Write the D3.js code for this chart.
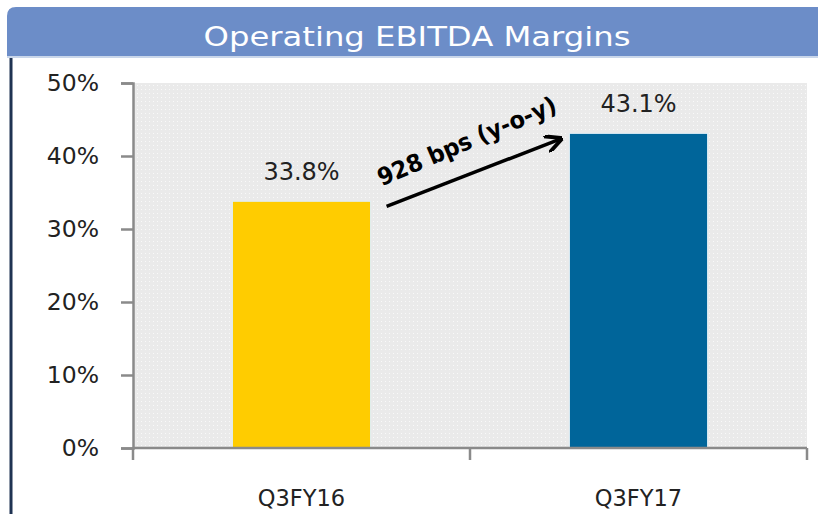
<!DOCTYPE html>
<html><head><meta charset="utf-8">
<script src="https://cdn.jsdelivr.net/npm/d3@7/dist/d3.min.js"></script>
<style>body{margin:0;background:#fff;}svg{display:block;}</style>
</head><body>
<script>
const title = "Operating EBITDA Margins";
const categories = ["Q3FY16", "Q3FY17"];
const values = [33.8, 43.1];
const valueLabels = ["33.8%", "43.1%"];
const barColors = ["#FFCC00", "#00659A"];
const yTicks = [0, 10, 20, 30, 40, 50];
const annotation = "928 bps (y-o-y)";

(function(){
const W = 818, H = 514;
const svg = d3.select("body").append("svg").attr("width", W).attr("height", H);
const font = "'DejaVu Sans', Verdana, sans-serif";

const defs = svg.append("defs");
const pat = defs.append("pattern").attr("id","dots").attr("width",4).attr("height",4).attr("patternUnits","userSpaceOnUse");
pat.append("rect").attr("width",4).attr("height",4).attr("fill","#eaeaea");
pat.append("rect").attr("x",1).attr("y",1).attr("width",1).attr("height",1).attr("fill","#f9f9f9");
defs.append("marker").attr("id","arr").attr("viewBox","0 0 10 10").attr("refX",8).attr("refY",5)
  .attr("markerWidth",5).attr("markerHeight",5).attr("orient","auto")
  .append("path").attr("d","M0,0 L10,5 L0,10").attr("fill","none").attr("stroke","#000").attr("stroke-width",2.2);

svg.append("path").attr("d","M7,56 L7,16 Q7,7 16,7 L818,7 L818,56 Z").attr("fill","#6C8DC8");
svg.append("line").attr("x1",7).attr("x2",818).attr("y1",57).attr("y2",57).attr("stroke","#c9d6ea").attr("stroke-width",2);
svg.append("text").attr("x",417).attr("y",46).attr("text-anchor","middle")
  .attr("font-family",font).attr("font-size",26).attr("fill","#fff")
  .attr("textLength",427).attr("lengthAdjust","spacingAndGlyphs").text(title);
svg.append("line").attr("x1",11).attr("x2",11).attr("y1",58).attr("y2",H).attr("stroke","#1f3352").attr("stroke-width",3);

const pl = 133, pr = 807, pt = 83, pb = 448;
const x = d3.scaleBand().domain(categories).range([pl, pr]).paddingInner(0.59).paddingOuter(0.295);
const y = d3.scaleLinear().domain([0, 50]).range([pb, pt]);

svg.append("rect").attr("x",pl).attr("y",pt).attr("width",pr-pl).attr("height",pb-pt).attr("fill","url(#dots)");

svg.selectAll(".bar").data(values).enter().append("rect")
  .attr("x",(d,i)=>x(categories[i])).attr("y",d=>y(d))
  .attr("width",x.bandwidth()).attr("height",d=>pb-y(d))
  .attr("fill",(d,i)=>barColors[i]).attr("stroke","#dfeff7").attr("stroke-width",1);

svg.selectAll(".vl").data(values).enter().append("text")
  .attr("x",(d,i)=>x(categories[i])+x.bandwidth()/2).attr("y",d=>y(d)-21)
  .attr("text-anchor","middle").attr("font-family",font).attr("font-size",24).attr("fill","#222")
  .text((d,i)=>valueLabels[i]);

const yAxis = d3.axisLeft(y).tickValues(yTicks).tickFormat(d=>d+"%").tickSize(12).tickPadding(22);
const ga = svg.append("g").attr("transform",`translate(${pl},0)`).call(yAxis);
ga.select(".domain").attr("stroke","#8a8a8a").attr("stroke-width",2.5);
ga.selectAll(".tick line").attr("stroke","#8a8a8a").attr("stroke-width",2.5);
ga.selectAll(".tick text").attr("font-family",font).attr("font-size",23.5).attr("fill","#222");

const xAxis = d3.axisBottom(x).tickSize(0).tickPadding(42);
const gx = svg.append("g").attr("transform",`translate(0,${pb})`).call(xAxis);
gx.select(".domain").attr("stroke","#8a8a8a").attr("stroke-width",2.5).attr("d",`M${pl},0H${pr}`);
gx.selectAll(".tick text").attr("font-family",font).attr("font-size",22.5).attr("fill","#222");
[pl, (pl+pr)/2, pr].forEach(xx=>{
  svg.append("line").attr("x1",xx).attr("x2",xx).attr("y1",pb).attr("y2",pb+12).attr("stroke","#8a8a8a").attr("stroke-width",2.5);
});

const x0 = x(categories[0])+x.bandwidth()+16, y0 = y(values[0])+5;
const x1 = x(categories[1])-10, y1 = y(values[1])+6;
svg.append("line").attr("x1",x0).attr("y1",y0).attr("x2",x1).attr("y2",y1)
  .attr("stroke","#000").attr("stroke-width",3.5).attr("marker-end","url(#arr)");
svg.append("text").attr("transform",`translate(${(x0+x1)/2-3},${(y0+y1)/2-24}) rotate(-23)`)
  .attr("text-anchor","middle").attr("font-family",font).attr("font-weight","bold").attr("font-size",24)
  .attr("font-stretch","condensed").attr("fill","#000")
  .attr("textLength",192).attr("lengthAdjust","spacingAndGlyphs").text(annotation);
})();
</script>
</body></html>
